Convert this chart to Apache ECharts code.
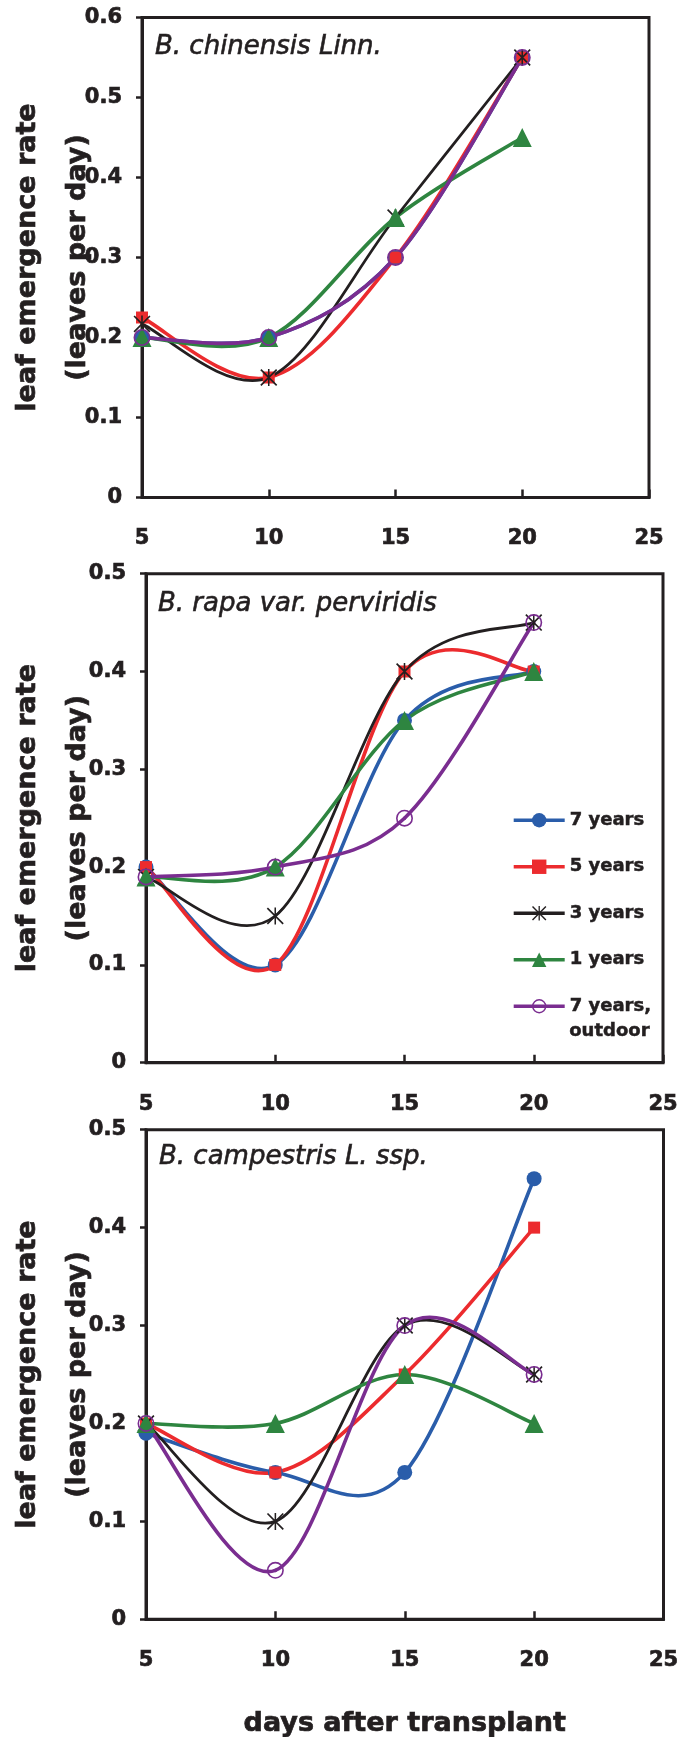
<!DOCTYPE html>
<html><head><meta charset="utf-8">
<script src="https://cdn.jsdelivr.net/npm/echarts@6/dist/echarts.min.js"></script>
<style>html,body{margin:0;padding:0;background:#fff}#c{width:682px;height:1737px}</style>
</head><body><div id="c"></div>
<script>
// ---------------- data ----------------
const days = [5, 10, 15, 20];
const seriesNames = ['7 years', '5 years', '3 years', '1 years', '7 years, outdoor'];
const legendLabels = ['7 years', '5 years', '3 years', '1 years', '7 years,'];
const legendExtraLine = 'outdoor';
const panelTitles = ['B. chinensis Linn.', 'B. rapa var. perviridis', 'B. campestris L. ssp.'];
const yMaxes = [0.6, 0.5, 0.5];
const yTitle = 'leaf emergence rate\n(leaves per day)';
const xTitle = 'days after transplant';

// B. chinensis Linn.
const chin7 = [0.2, 0.2, 0.3, 0.55];
const chin5 = [0.225, 0.15, 0.3, 0.55];
const chin3 = [0.217, 0.15, 0.35, 0.55];
const chin1 = [0.2, 0.2, 0.35, 0.45];
const chinOut = [0.2, 0.2, 0.3, 0.55];
// B. rapa var. perviridis
const rapa7 = [0.2, 0.1, 0.35, 0.4];
const rapa5 = [0.2, 0.1, 0.4, 0.4];
const rapa3 = [0.19, 0.15, 0.4, 0.45];
const rapa1 = [0.19, 0.2, 0.35, 0.4];
const rapaOut = [0.19, 0.2, 0.25, 0.45];
// B. campestris L. ssp.
const camp7 = [0.19, 0.15, 0.15, 0.45];
const camp5 = [0.2, 0.15, 0.25, 0.4];
const camp3 = [0.2, 0.1, 0.3, 0.25];
const camp1 = [0.2, 0.2, 0.25, 0.2];
const campOut = [0.2, 0.05, 0.3, 0.25];

const panels = [
  [chin7, chin5, chin3, chin1, chinOut],
  [rapa7, rapa5, rapa3, rapa1, rapaOut],
  [camp7, camp5, camp3, camp1, campOut]
];

// ---------------- styles ----------------
const INK = '#231f20';
const colors = ['#2a5daa', '#ec2b2e', '#231f20', '#2e8540', '#7a2d90'];
const lineWidths = [3.6, 3.6, 2.8, 3.6, 3.6];
const ASTER = 'path://M0,1.4 L1.4,0 L20,18.6 L18.6,20 Z M18.6,0 L20,1.4 L1.4,20 L0,18.6 Z M9.1,0 L10.9,0 L10.9,20 L9.1,20 Z';
const RING = 'path://M10,0 A10,10 0 1,1 10,20 A10,10 0 1,1 10,0 Z M10,1.9 A8.1,8.1 0 1,0 10,18.1 A8.1,8.1 0 1,0 10,1.9 Z';
const symbols = ['circle', 'rect', ASTER, 'triangle', RING];
const symbolSizes = [15, 12, 17, 19, 17];

const grids = [
  { left: 142, top: 17.5, width: 507, height: 480 },
  { left: 146, top: 573.7, width: 517, height: 489 },
  { left: 146, top: 1129.7, width: 517.5, height: 489.6 }
];
const nameGaps = [39, 43, 43];
const titlePos = [[155, 34], [158, 591], [159, 1144]];
const FONT = 'DejaVu Sans';

function curveSeries(name, vals, color, width, gi) {
  return {
    type: 'custom', name: name + ' (curve ' + gi + ')',
    xAxisIndex: gi, yAxisIndex: gi, silent: true, z: 2,
    data: days.map((d, i) => [d, vals[i]]),
    renderItem: function (params, api) {
      const i = params.dataIndex;
      if (i >= days.length - 1) return null;
      const P = days.map((d, k) => api.coord([d, vals[k]]));
      const p0 = P[Math.max(i - 1, 0)], p1 = P[i], p2 = P[i + 1], p3 = P[Math.min(i + 2, P.length - 1)];
      const t = 1 / 6;
      return {
        type: 'bezierCurve',
        shape: {
          x1: p1[0], y1: p1[1], x2: p2[0], y2: p2[1],
          cpx1: p1[0] + (p2[0] - p0[0]) * t, cpy1: p1[1] + (p2[1] - p0[1]) * t,
          cpx2: p2[0] - (p3[0] - p1[0]) * t, cpy2: p2[1] - (p3[1] - p1[1]) * t
        },
        style: { stroke: color, lineWidth: width, fill: null, lineCap: 'round' }
      };
    }
  };
}
function markerSeries(name, vals, k, gi) {
  return {
    type: 'line', name: name, xAxisIndex: gi, yAxisIndex: gi, z: 3,
    data: days.map((d, i) => [d, vals[i]]),
    symbol: symbols[k], symbolSize: symbolSizes[k], showSymbol: true,
    color: colors[k], itemStyle: { color: colors[k] },
    lineStyle: { opacity: 0, width: lineWidths[k] },
    emphasis: { disabled: true }
  };
}

const series = [];
panels.forEach((p, gi) => {
  p.forEach((vals, k) => {
    series.push(curveSeries(seriesNames[k], vals, colors[k], lineWidths[k], gi));
    series.push(markerSeries(seriesNames[k], vals, k, gi));
  });
});

const heavy = { textBorderColor: INK, textBorderWidth: 0.7 };
const labelStyle = Object.assign({ fontFamily: FONT, fontWeight: 'bold', fontSize: 21, color: INK }, heavy);

const option = {
  animation: false,
  backgroundColor: '#fff',
  title: panelTitles.map((t, i) => ({
    text: t, left: titlePos[i][0], top: titlePos[i][1], padding: 0,
    textStyle: { fontFamily: FONT, fontStyle: 'italic', fontWeight: 'normal', fontSize: 26, color: INK,
      textBorderColor: INK, textBorderWidth: 0.6 }
  })),
  grid: grids.map(g => Object.assign({ show: true, borderColor: INK, borderWidth: 3, backgroundColor: '#fff',
    containLabel: false, outerBoundsMode: 'none' }, g)),
  xAxis: grids.map((g, i) => ({
    type: 'value', gridIndex: i, min: 5, max: 25, interval: 5,
    axisLine: { show: true, lineStyle: { color: INK, width: 3 } },
    axisTick: { show: true, inside: true, length: 8, lineStyle: { color: INK, width: 2.5 } },
    axisLabel: Object.assign({ margin: 31 }, labelStyle),
    splitLine: { show: false },
    name: i === 2 ? xTitle : '', nameLocation: 'middle', nameGap: 91, nameMoveOverlap: false,
    nameTextStyle: Object.assign({ fontFamily: FONT, fontWeight: 'bold', fontSize: 27, color: INK }, heavy)
  })),
  yAxis: grids.map((g, i) => ({
    type: 'value', gridIndex: i, min: 0, max: yMaxes[i], interval: 0.1,
    axisLine: { show: true, lineStyle: { color: INK, width: 3 } },
    axisTick: { show: true, inside: false, length: 6, lineStyle: { color: INK, width: 2.5 } },
    axisLabel: Object.assign({ margin: 20 }, labelStyle),
    splitLine: { show: false },
    name: yTitle, nameLocation: 'middle', nameGap: nameGaps[i], nameMoveOverlap: false,
    nameTextStyle: Object.assign({ fontFamily: FONT, fontWeight: 'bold', fontSize: 27, lineHeight: 50, color: INK }, heavy)
  })),
  legend: {
    orient: 'vertical', left: 512, top: 811, padding: 0,
    itemWidth: 51, itemHeight: 18, itemGap: 28, itemTextGap: 5,
    data: seriesNames, selectedMode: false,
    formatter: function (n) { return legendLabels[seriesNames.indexOf(n)]; },
    textStyle: Object.assign({ fontFamily: FONT, fontWeight: 'bold', fontSize: 18, color: INK }, { textBorderColor: INK, textBorderWidth: 0.5 }),
    lineStyle: { width: 3.4, opacity: 1 }
  },
  graphic: [{
    type: 'text', left: 569, top: 1022, z: 10,
    style: { text: legendExtraLine, font: 'bold 18px "DejaVu Sans"', fill: INK, stroke: INK, lineWidth: 0.5 }
  }],
  series: series
};

const chart = echarts.init(document.getElementById('c'), null, { renderer: 'canvas' });
chart.setOption(option);
</script>
</body></html>
